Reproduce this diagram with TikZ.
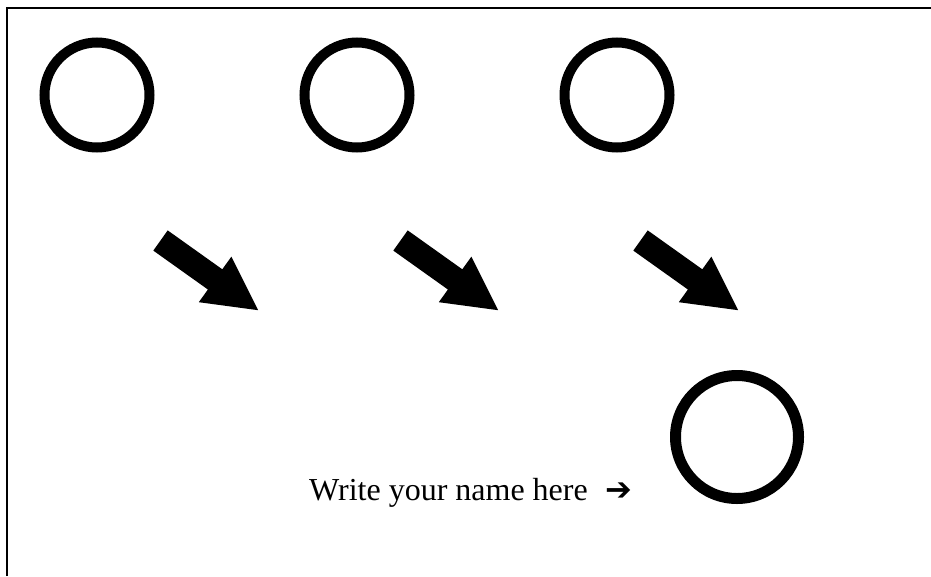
\documentclass[tikz,border=0pt]{standalone}
\usepackage{fontspec}
\setmainfont{Liberation Serif}
\newfontfamily\symfont{DejaVu Sans}
\tikzset{ring/.style={draw,circle,line width=10pt,inner sep=0pt,minimum size=105pt}}
\tikzset{bigring/.style={ring,line width=11pt,minimum size=123pt}}

\begin{document}
\begin{tikzpicture}[x=1pt,y=-1pt]
    \useasboundingbox (0,0) rectangle (931,576);
    \draw[line width=2pt] (7,576) -- (7,7.5) -- (931,7.5);
    \node[ring] (C1) at (97,95) {};
    \node[ring] (C2) at (357,95) {};
    \node[ring] (C3) at (617,95) {};
    \foreach \dx in {0,240,480}
      \fill[shift={(\dx,0)}] (167.7,230.4) -- (222.3,269.3) -- (231.4,256.6) -- (258.2,310.2)
        -- (198.8,302.2) -- (207.9,289.5) -- (153.3,250.6) -- cycle;
    \node[bigring] (C4) at (737,437) {};
    \node[anchor=base west,inner sep=0pt,font=\fontsize{32}{38}\selectfont] (name) at (309,500)
      {Write your name here\hspace{18pt}{\symfont\bfseries ➔}};
  \end{tikzpicture}
\end{document}
